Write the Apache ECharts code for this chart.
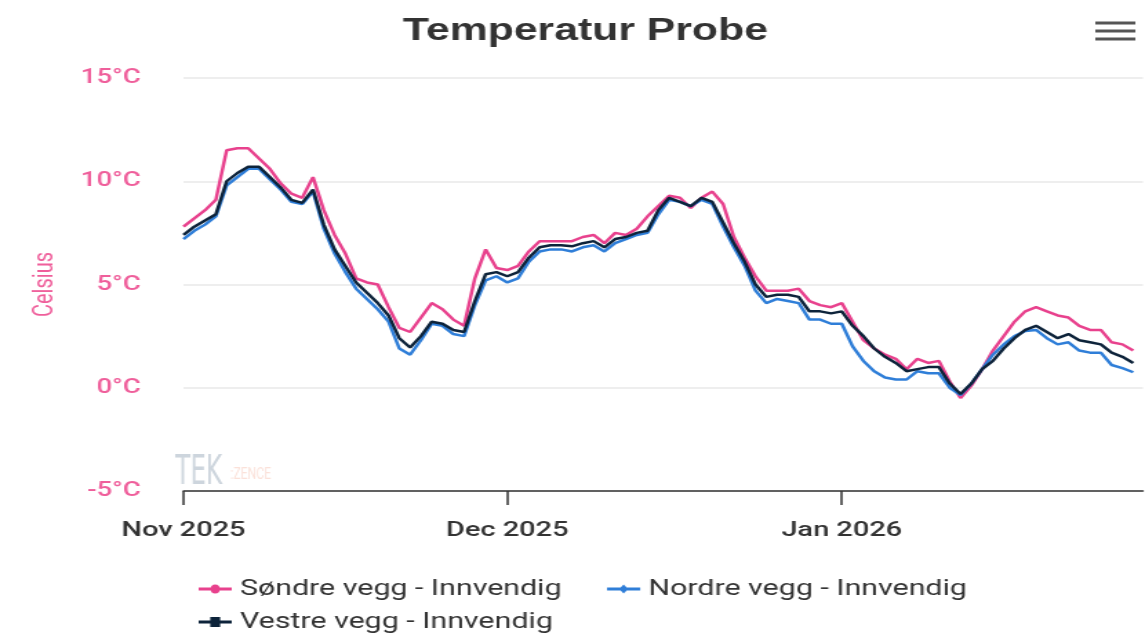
<!DOCTYPE html>
<html>
<head>
<meta charset="utf-8">
<script src="https://cdn.jsdelivr.net/npm/echarts@6/dist/echarts.min.js"></script>
<style>
  html, body { margin: 0; padding: 0; background: #fff; overflow: hidden; }
  /* the reference is a horizontally stretched screenshot, so draw narrow and stretch */
  #chart { width: 830px; height: 638px; transform: scaleX(1.3795); transform-origin: 0 0; }
</style>
</head>
<body>
<div id="chart"></div>
<script>
const DAY = 86400000;
const startDate = '2025-11-01';
const endDay = 88.9;

const tickDates = ['2025-11-01', '2025-12-01', '2026-01-01'];
const tickLabels = ['Nov 2025', 'Dec 2025', 'Jan 2026'];

const seriesNames = ['Søndre vegg - Innvendig', 'Nordre vegg - Innvendig', 'Vestre vegg - Innvendig'];

// daily readings, Nov 1 -> Jan 28
const sondre = [
  7.8, 8.2, 8.6, 9.1, 11.5, 11.6, 11.6, 11.1, 10.6, 9.9,
  9.4, 9.2, 10.2, 8.6, 7.4, 6.5, 5.3, 5.1, 5.0, 3.9,
  2.9, 2.7, 3.4, 4.1, 3.8, 3.3, 3.0, 5.3, 6.7, 5.8,
  5.7, 5.9, 6.6, 7.1, 7.1, 7.1, 7.1, 7.3, 7.4, 7.0,
  7.5, 7.4, 7.7, 8.3, 8.8, 9.3, 9.2, 8.7, 9.2, 9.5,
  8.9, 7.3, 6.3, 5.4, 4.7, 4.7, 4.7, 4.8, 4.2, 4.0,
  3.9, 4.1, 3.2, 2.3, 1.9, 1.6, 1.4, 0.9, 1.4, 1.2,
  1.3, 0.3, -0.5, 0.1, 0.9, 1.8, 2.5, 3.2, 3.7, 3.9,
  3.7, 3.5, 3.4, 3.0, 2.8, 2.8, 2.2, 2.1, 1.8
];
const nordre = [
  7.2, 7.6, 7.9, 8.3, 9.8, 10.2, 10.6, 10.6, 10.1, 9.6,
  9.0, 8.9, 9.5, 7.7, 6.5, 5.6, 4.8, 4.3, 3.8, 3.2,
  1.9, 1.6, 2.3, 3.1, 3.0, 2.6, 2.5, 4.0, 5.2, 5.4,
  5.1, 5.3, 6.1, 6.6, 6.7, 6.7, 6.6, 6.8, 6.9, 6.6,
  7.0, 7.2, 7.4, 7.5, 8.4, 9.1, 9.0, 8.8, 9.1, 8.9,
  7.8, 6.8, 5.9, 4.7, 4.1, 4.3, 4.2, 4.1, 3.3, 3.3,
  3.1, 3.1, 2.0, 1.3, 0.8, 0.5, 0.4, 0.4, 0.8, 0.7,
  0.7, 0.0, -0.35, 0.2, 0.9, 1.6, 2.1, 2.5, 2.75, 2.8,
  2.4, 2.1, 2.2, 1.8, 1.7, 1.7, 1.1, 0.95, 0.75
];
const vestre = [
  7.4, 7.8, 8.1, 8.4, 10.0, 10.4, 10.7, 10.7, 10.2, 9.7,
  9.1, 8.95, 9.6, 7.9, 6.7, 5.9, 5.1, 4.6, 4.1, 3.5,
  2.4, 1.95, 2.5, 3.2, 3.1, 2.8, 2.7, 4.2, 5.5, 5.6,
  5.4, 5.6, 6.3, 6.8, 6.9, 6.9, 6.85, 7.0, 7.1, 6.8,
  7.2, 7.3, 7.5, 7.6, 8.6, 9.2, 9.0, 8.8, 9.2, 9.0,
  8.0, 7.0, 6.1, 5.0, 4.4, 4.5, 4.5, 4.4, 3.7, 3.7,
  3.6, 3.7, 3.0, 2.5, 1.9, 1.5, 1.2, 0.8, 0.9, 1.0,
  1.0, 0.2, -0.3, 0.2, 0.9, 1.3, 1.9, 2.4, 2.8, 3.0,
  2.7, 2.4, 2.6, 2.3, 2.2, 2.1, 1.7, 1.5, 1.2
];

const colors = ['#e8418d', '#2f7ed8', '#0d233a'];
const labelPink = '#ef5f9b';

const startTs = Date.parse(startDate);
const tickValues = tickDates.map(d => Date.parse(d));
const toPoints = arr => arr.map((v, i) => [startTs + i * DAY, v]);

const icons = [
  'path://M0,4.5H24V7.5H0Z M8.7,6A3.3,4.5 0 1,1 15.3,6A3.3,4.5 0 1,1 8.7,6Z',
  'path://M0,4.5H24V7.5H0Z M12,1.5L15.3,6L12,10.5L8.7,6Z',
  'path://M0,4.5H24V7.5H0Z M8.4,1H15.6V11H8.4Z'
];

const myChart = echarts.init(document.getElementById('chart'), null, { renderer: 'canvas' });

const legendText = { color: '#333', fontSize: 22, fontFamily: 'Roboto', padding: [0, 0, 0, 1] };

const option = {
  animation: false,
  title: {
    text: 'Temperatur Probe',
    left: 287,
    top: 11,
    textStyle: { fontFamily: 'Liberation Sans', fontWeight: 'bold', fontSize: 31, color: '#333' }
  },
  legend: [
    {
      data: [
        { name: seriesNames[0], icon: icons[0] },
        { name: seriesNames[1], icon: icons[1] }
      ],
      left: 139,
      top: 573,
      itemGap: 33,
      itemWidth: 24,
      itemHeight: 12,
      textStyle: legendText
    },
    {
      data: [{ name: seriesNames[2], icon: icons[2] }],
      left: 139,
      top: 606,
      itemWidth: 24,
      itemHeight: 12,
      textStyle: legendText
    }
  ],
  grid: { left: 133, right: 1.5, top: 78, bottom: 147 },
  xAxis: {
    type: 'value',
    min: startTs,
    max: startTs + endDay * DAY,
    axisLine: { onZero: false, lineStyle: { color: '#333', width: 1.5 } },
    axisTick: { customValues: tickValues, length: 14, lineStyle: { color: '#333', width: 1.5 } },
    axisLabel: {
      customValues: tickValues,
      formatter: v => tickLabels[tickValues.indexOf(v)],
      color: '#333',
      fontSize: 21,
      fontWeight: 500,
      fontFamily: 'Roboto',
      margin: 29
    },
    splitLine: { show: false }
  },
  yAxis: {
    type: 'value',
    min: -5,
    max: 15,
    interval: 5,
    name: 'Celsius',
    nameLocation: 'middle',
    nameRotate: 90,
    nameGap: 90,
    nameTextStyle: { color: labelPink, fontSize: 20, fontFamily: 'Roboto' },
    axisLine: { show: false },
    axisTick: { show: false },
    axisLabel: {
      formatter: '{value}°C',
      color: labelPink,
      fontSize: 20,
      fontWeight: 500,
      fontFamily: 'Roboto',
      margin: 31
    },
    splitLine: { lineStyle: { color: '#e8e8e8', width: 1.5 } }
  },
  graphic: [
    {
      type: 'text',
      left: 127,
      top: 454,
      scaleX: 0.45,
      style: { text: 'TEK', fontSize: 40, fontFamily: 'DejaVu Sans', fill: '#cdd5dd' }
    },
    {
      type: 'text',
      left: 167,
      top: 467,
      scaleX: 0.55,
      style: { text: ':ZENCE', fontSize: 16, fontFamily: 'Roboto', fill: '#fbe1d9' }
    },
    { type: 'rect', left: 794, top: 21.5, shape: { width: 29, height: 3 }, style: { fill: '#555' } },
    { type: 'rect', left: 794, top: 29.5, shape: { width: 29, height: 3 }, style: { fill: '#555' } },
    { type: 'rect', left: 794, top: 37.5, shape: { width: 29, height: 3 }, style: { fill: '#555' } }
  ],
  series: [
    { name: seriesNames[0], type: 'line', data: toPoints(sondre), showSymbol: false, color: colors[0], lineStyle: { width: 2.5 } },
    { name: seriesNames[1], type: 'line', data: toPoints(nordre), showSymbol: false, color: colors[1], lineStyle: { width: 2.5 } },
    { name: seriesNames[2], type: 'line', data: toPoints(vestre), showSymbol: false, color: colors[2], lineStyle: { width: 2.5 } }
  ]
};

myChart.setOption(option);
</script>
</body>
</html>
